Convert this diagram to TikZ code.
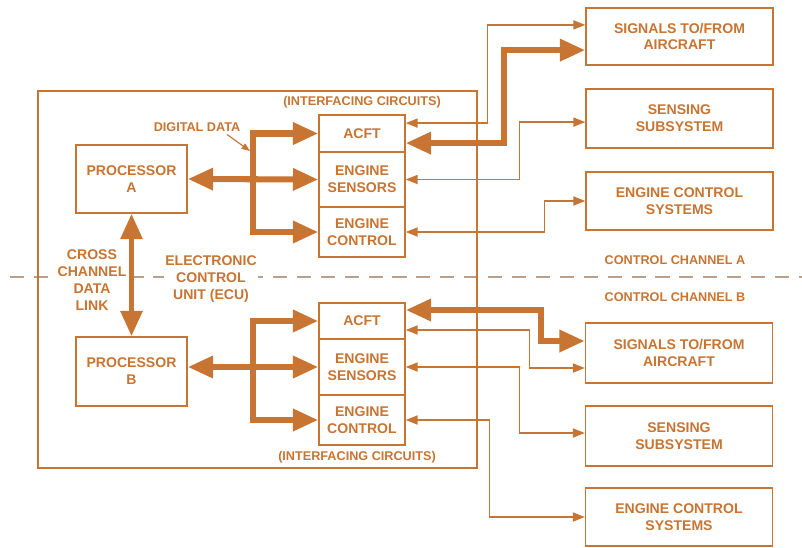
\documentclass[tikz,border=0pt]{standalone}
\usepackage{fontspec}
\setmainfont{Liberation Sans}
\usetikzlibrary{arrows.meta,positioning}
\definecolor{ecuorange}{RGB}{200,116,50}
\definecolor{chandash}{RGB}{185,160,140}
\newcommand{\ecufont}{\fontsize{10}{12}\selectfont\bfseries}
\newcommand{\tagfont}{\fontsize{9}{11}\selectfont\bfseries}
\tikzset{
  box/.style={draw=ecuorange, line width=1pt, text=ecuorange, font=\ecufont,
    align=center, inner sep=0pt},
  tag/.style={text=ecuorange, font=\tagfont, align=center, inner sep=1pt},
  lbl/.style={text=ecuorange, font=\ecufont, align=center, fill=white, inner sep=1pt},
  thinlink/.style={draw=ecuorange, line width=1pt,
    {Triangle[length=8.5pt,width=6.5pt]}-{Triangle[length=8.5pt,width=6.5pt]}},
  bus/.style={draw=ecuorange, line width=4.3pt,
    {Triangle[length=18pt,width=15pt]}-{Triangle[length=18pt,width=15pt]}},
  ptr/.style={draw=ecuorange, line width=0.8pt, -{Triangle[length=6pt,width=4.5pt]}}
}

\begin{document}
\begin{tikzpicture}[x=0.025cm, y=-0.025cm]
  \useasboundingbox (0,0) rectangle (802,547);
  % divider between the two control channels
  \draw[chandash, line width=0.8pt, dash pattern=on 10pt off 7pt] (10,277) -- (802,277);
  % electronic control unit
  \node[box, minimum width=10.975cm, minimum height=9.425cm] (ecu) at (257.5,279.5) {};
  \node[lbl] (xlabel) at (92,280) {\fontsize{10}{12.8}\selectfont CROSS\\CHANNEL\\DATA\\LINK};
  \node[lbl] (eculabel) at (211,279) {\fontsize{10}{12.4}\selectfont ELECTRONIC\\CONTROL\\UNIT (ECU)};
  \node[box, minimum width=2.775cm, minimum height=1.7cm] (procA) at (131.5,179) {PROCESSOR\\A};
  \node[box, minimum width=2.775cm, minimum height=1.725cm] (procB) at (131.5,371.5) {PROCESSOR\\B};
  % interfacing circuits, channel A
  \node[box, minimum width=2.15cm, minimum height=0.925cm] (acftA) at (362,133.5) {ACFT};
  \node[box, minimum width=2.15cm, minimum height=1.375cm] (sensA) at (362,179.5) {ENGINE\\SENSORS};
  \node[box, minimum width=2.15cm, minimum height=1.25cm] (ctrlA) at (362,232) {ENGINE\\CONTROL};
  % interfacing circuits, channel B
  \node[box, minimum width=2.15cm, minimum height=0.9cm] (acftB) at (362,321) {ACFT};
  \node[box, minimum width=2.15cm, minimum height=1.4cm] (sensB) at (362,367) {ENGINE\\SENSORS};
  \node[box, minimum width=2.15cm, minimum height=1.25cm] (ctrlB) at (362,420) {ENGINE\\CONTROL};
  \node[tag] (icA) at (362,102) {(INTERFACING CIRCUITS)};
  \node[tag] (icB) at (357,457) {(INTERFACING CIRCUITS)};
  % outside systems
  \node[box, minimum width=4.675cm, minimum height=1.425cm] (sigA) at (679.5,36.5) {SIGNALS TO/FROM\\AIRCRAFT};
  \node[box, minimum width=4.675cm, minimum height=1.475cm] (senseA) at (679.5,118.5) {SENSING\\SUBSYSTEM};
  \node[box, minimum width=4.675cm, minimum height=1.45cm] (ecsA) at (679.5,201) {ENGINE CONTROL\\SYSTEMS};
  \node[box, minimum width=4.675cm, minimum height=1.5cm] (sigB) at (679,353) {SIGNALS TO/FROM\\AIRCRAFT};
  \node[box, minimum width=4.675cm, minimum height=1.5cm] (senseB) at (679,436) {SENSING\\SUBSYSTEM};
  \node[box, minimum width=4.675cm, minimum height=1.45cm] (ecsB) at (679,517) {ENGINE CONTROL\\SYSTEMS};
  \node[tag] (chA) at (675,260) {CONTROL CHANNEL A};
  \node[tag] (chB) at (675,297) {CONTROL CHANNEL B};
  % digital data buses
  \coordinate (busA) at (253,179);
  \coordinate (busB) at (253,368);
  \draw[bus] (acftA.west) -- (acftA.west -| busA) -- (ctrlA.west -| busA) -- (ctrlA.west);
  \draw[bus] (procA.east) -- (sensA.west);
  \draw[bus] (acftB.west) -- (acftB.west -| busB) -- (ctrlB.west -| busB) -- (ctrlB.west);
  \draw[bus] (sensB.west -| procB.east) -- (sensB.west);
  \node[tag] (ddlabel) at (197,127) {DIGITAL DATA};
  \coordinate (ddtip) at (250,151);
  \draw[ptr] ([xshift=-10.5pt,yshift=-1pt]ddlabel.south east) -- (ddtip);
  % cross channel data link
  \draw[bus, line width=3.8pt] (procA.south) -- (procB.north);
  % channel A wiring
  \draw[thinlink] ([yshift=0.26cm]acftA.east) -- ++(82,0) |- ([yshift=0.29cm]sigA.west);
  \draw[bus] ([yshift=-0.24cm]acftA.east) -- ++(98,0) |- ([yshift=-0.34cm]sigA.west);
  \draw[thinlink] (sensA.east) -- ++(114,0) |- ([yshift=-0.09cm]senseA.west);
  \draw[thinlink] (ctrlA.east) -- ++(139,0) |- (ecsA.west);
  % channel B wiring
  \draw[bus] ([yshift=0.275cm]acftB.east) -- ++(135,0) |- ([yshift=0.3cm]sigB.west);
  \draw[thinlink] ([yshift=-0.225cm]acftB.east) -- ++(124,0) |- ([yshift=-0.375cm]sigB.west);
  \draw[thinlink] (sensB.east) -- ++(114,0) |- ([yshift=0.075cm]senseB.west);
  \draw[thinlink] (ctrlB.east) -- ++(84,0) |- (ecsB.west);
\end{tikzpicture}
\end{document}
